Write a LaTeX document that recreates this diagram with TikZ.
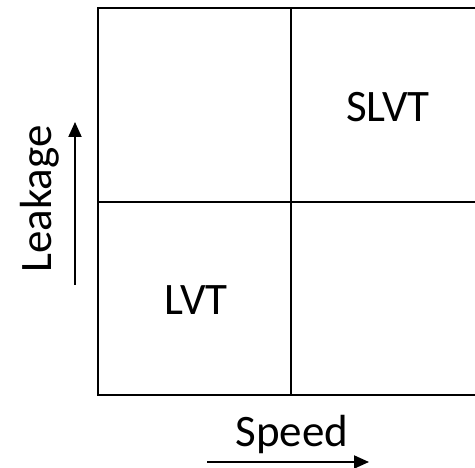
\documentclass[tikz,border=0pt]{standalone}
\usepackage{fontspec}
\setmainfont{Carlito}
\usetikzlibrary{arrows.meta}
\begin{document}
\begin{tikzpicture}[x=1pt,y=1pt,
  grid/.style={line width=2.5pt,black},
  lab/.style={font=\fontsize{45}{50}\selectfont,inner sep=0pt,anchor=base},
  axarrow/.style={line width=2pt,-{Triangle[length=15pt,width=13pt]}}]
\useasboundingbox (0,0) rectangle (475,467);
\clip (0,0) rectangle (475,467);
\coordinate (bl) at (98,72);
\coordinate (tr) at (500,459);
\coordinate (mt) at (291,459);
\coordinate (mb) at (291,72);
\coordinate (ml) at (98,265);
\coordinate (mr) at (500,265);
\draw[grid] (bl) rectangle (tr);
\draw[grid] (mt) -- (mb);
\draw[grid] (ml) -- (mr);
\node[lab] (slvt) at (388,345) {SLVT};
\node[lab] (lvt) at (196,152) {LVT};
\node[lab,rotate=90] (leak) at (52,268) {Leakage};
\node[lab] (speed) at (292,20) {Speed};
\coordinate (la) at (75,182);
\coordinate (lb) at (75,345);
\draw[axarrow] (la) -- (lb);
\coordinate (sa) at (207,5);
\coordinate (sb) at (369,5);
\draw[axarrow] (sa) -- (sb);
\end{tikzpicture}
\end{document}
